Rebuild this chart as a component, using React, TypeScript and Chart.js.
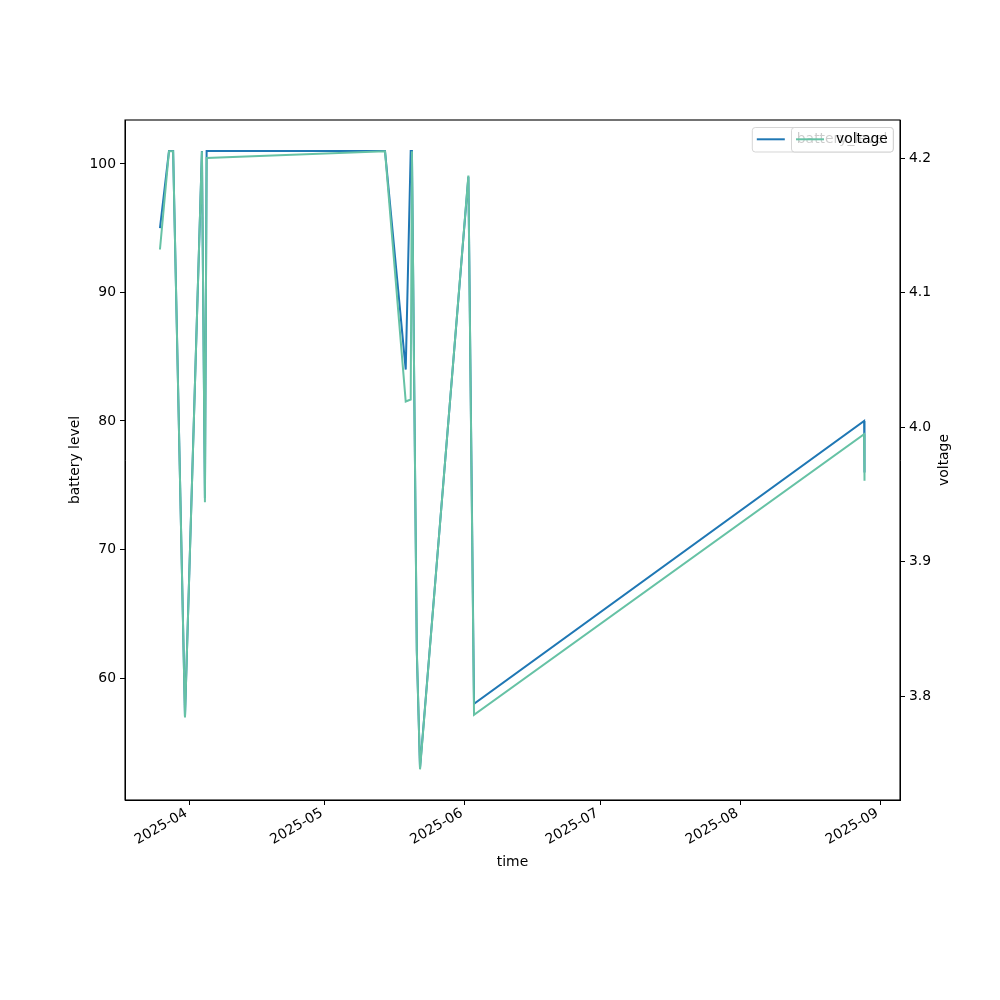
import React, { useEffect, useRef } from "react";
import { Chart, registerables } from "chart.js";

Chart.register(...registerables);

// ---- data ----
const times = [
  "2025-03-25 12:00",
  "2025-03-27 12:00",
  "2025-03-28 10:00",
  "2025-03-31 01:00",
  "2025-04-03 19:00",
  "2025-04-04 11:00",
  "2025-04-04 20:00",
  "2025-05-14 08:00",
  "2025-05-18 22:00",
  "2025-05-20 00:30",
  "2025-05-20 07:00",
  "2025-05-21 09:00",
  "2025-05-22 02:00",
  "2025-06-01 19:00",
  "2025-06-03 01:00",
  "2025-08-28 10:00",
  "2025-08-28 12:00",
];
const batteryLevel = [95, 101, 101, 57, 101, 74, 101, 101, 84, 101, 101, 62, 53, 99, 58, 80, 76];
const voltage = [
  4.132, 4.205, 4.205, 3.784, 4.205, 3.944, 4.2, 4.205, 4.019, 4.0205, 4.205, 3.834, 3.7455, 4.187,
  3.786, 3.9946, 3.96,
];
const monthTickDates = ["2025-04-01", "2025-05-01", "2025-06-01", "2025-07-01", "2025-08-01", "2025-09-01"];
const monthTickLabels = ["2025-04", "2025-05", "2025-06", "2025-07", "2025-08", "2025-09"];
const batteryTicks = [60, 70, 80, 90, 100];
const voltageTicks = [3.8, 3.9, 4.0, 4.1, 4.2];

const DAY0 = Date.UTC(2025, 3, 1);
function toDay(s: string): number {
  const [d, t] = s.split(" ");
  const [y, m, dd] = d.split("-").map(Number);
  const [hh, mm] = (t || "00:00").split(":").map(Number);
  return (Date.UTC(y, m - 1, dd, hh, mm) - DAY0) / 86400000;
}

const FONT = "'DejaVu Sans', sans-serif";
const BLUE = "#1f77b4";
const GREEN = "#66c2a5";

function roundRect(ctx: CanvasRenderingContext2D, x: number, y: number, w: number, h: number, r: number) {
  ctx.beginPath();
  ctx.moveTo(x + r, y);
  ctx.lineTo(x + w - r, y);
  ctx.quadraticCurveTo(x + w, y, x + w, y + r);
  ctx.lineTo(x + w, y + h - r);
  ctx.quadraticCurveTo(x + w, y + h, x + w - r, y + h);
  ctx.lineTo(x + r, y + h);
  ctx.quadraticCurveTo(x, y + h, x, y + h - r);
  ctx.lineTo(x, y + r);
  ctx.quadraticCurveTo(x, y, x + r, y);
  ctx.closePath();
}

const decorPlugin = {
  id: "decor",
  afterDraw(chart: any) {
    const ctx: CanvasRenderingContext2D = chart.ctx;
    const a = chart.chartArea;
    ctx.save();
    // frame
    ctx.strokeStyle = "#000";
    ctx.lineWidth = 1.1;
    ctx.strokeRect(a.left, a.top, a.right - a.left, a.bottom - a.top);
    // axis titles
    ctx.fillStyle = "#000";
    ctx.font = `13.9px ${FONT}`;
    ctx.textAlign = "center";
    ctx.textBaseline = "middle";
    ctx.fillText("time", (a.left + a.right) / 2, 862);
    ctx.save();
    ctx.translate(75, (a.top + a.bottom) / 2);
    ctx.rotate(-Math.PI / 2);
    ctx.fillText("battery level", 0, 0);
    ctx.restore();
    ctx.save();
    ctx.translate(944, (a.top + a.bottom) / 2);
    ctx.rotate(-Math.PI / 2);
    ctx.fillText("voltage", 0, 0);
    ctx.restore();

    // legends (two overlapping, like twin-axes legends)
    const drawLegend = (x0: number, color: string, label: string) => {
      const y0 = 127.5;
      const w = 893.3 - x0;
      const h = 24.5;
      roundRect(ctx, x0, y0, w, h, 3);
      ctx.fillStyle = "rgba(255,255,255,0.8)";
      ctx.fill();
      ctx.strokeStyle = "rgba(204,204,204,0.8)";
      ctx.lineWidth = 1;
      ctx.stroke();
      ctx.beginPath();
      ctx.moveTo(x0 + 4.5, 139.3);
      ctx.lineTo(x0 + 32.5, 139.3);
      ctx.strokeStyle = color;
      ctx.lineWidth = 2;
      ctx.stroke();
      ctx.fillStyle = "#000";
      ctx.textAlign = "left";
      ctx.textBaseline = "middle";
      ctx.font = `13.9px ${FONT}`;
      ctx.fillText(label, x0 + 44.5, 139.5);
    };
    drawLegend(752.3, BLUE, "battery_level");
    drawLegend(791.5, GREEN, "voltage");
    ctx.restore();
  },
};

export default function App() {
  const ref = useRef<HTMLCanvasElement | null>(null);
  useEffect(() => {
    if (!ref.current) return;
    const xs = times.map(toDay);
    const tickFont = { family: FONT, size: 13.9 };
    const chart = new Chart(ref.current, {
      type: "line",
      data: {
        datasets: [
          {
            label: "battery_level",
            data: xs.map((x, i) => ({ x, y: batteryLevel[i] })),
            borderColor: BLUE,
            backgroundColor: BLUE,
            borderWidth: 2,
            pointRadius: 0,
            tension: 0,
            yAxisID: "y",
            order: 2,
          },
          {
            label: "voltage",
            data: xs.map((x, i) => ({ x, y: voltage[i] })),
            borderColor: GREEN,
            backgroundColor: GREEN,
            borderWidth: 2,
            pointRadius: 0,
            tension: 0,
            yAxisID: "y1",
            order: 1,
          },
        ],
      },
      options: {
        responsive: false,
        animation: false,
        devicePixelRatio: 1,
        layout: { padding: { top: 120, left: 0, right: 0, bottom: 0 } },
        plugins: { legend: { display: false }, tooltip: { enabled: false } },
        scales: {
          x: {
            type: "linear",
            min: -14.24,
            max: 157.36,
            afterFit: (s: any) => {
              s.height = 200;
            },
            afterBuildTicks: (s: any) => {
              s.ticks = monthTickDates.map((d) => ({ value: toDay(d) }));
            },
            ticks: {
              autoSkip: false,
              maxRotation: 30,
              minRotation: 30,
              color: "#000",
              font: tickFont,
              padding: 0,
              labelOffset: -3,
              callback: (_v: any, i: number) => monthTickLabels[i],
            },
            grid: { drawOnChartArea: false, drawTicks: true, tickLength: 5, color: "#000", tickWidth: 1 },
            border: { display: true, color: "#000", width: 1 },
          },
          y: {
            type: "linear",
            position: "left",
            min: 50.51,
            max: 103.42,
            afterFit: (s: any) => {
              s.width = 125;
            },
            afterBuildTicks: (s: any) => {
              s.ticks = batteryTicks.map((v) => ({ value: v }));
            },
            ticks: {
              color: "#000",
              font: tickFont,
              padding: 4,
              callback: (v: any) => String(v),
            },
            grid: { drawOnChartArea: false, drawTicks: true, tickLength: 5, color: "#000" },
            border: { display: true, color: "#000", width: 1 },
          },
          y1: {
            type: "linear",
            position: "right",
            min: 3.7227,
            max: 4.2283,
            afterFit: (s: any) => {
              s.width = 100;
            },
            afterBuildTicks: (s: any) => {
              s.ticks = voltageTicks.map((v) => ({ value: v }));
            },
            ticks: {
              color: "#000",
              font: tickFont,
              padding: 4,
              callback: (v: any) => Number(v).toFixed(1),
            },
            grid: { drawOnChartArea: false, drawTicks: true, tickLength: 5, color: "#000" },
            border: { display: true, color: "#000", width: 1 },
          },
        },
      },
      plugins: [decorPlugin],
    } as any);
    return () => chart.destroy();
  }, []);
  return (
    <div style={{ position: "absolute", left: 0, top: 0, width: 1000, height: 1000, background: "#fff" }}>
      <canvas ref={ref} width={1000} height={1000} style={{ display: "block", width: 1000, height: 1000 }} />
    </div>
  );
}
